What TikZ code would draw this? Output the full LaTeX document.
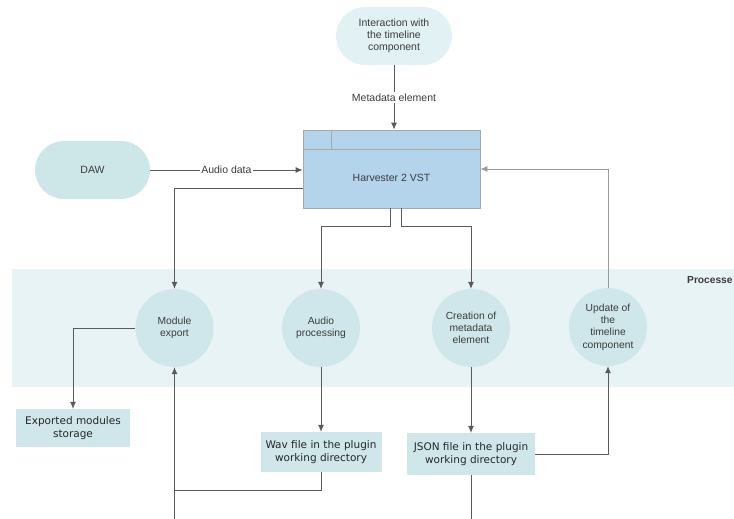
\documentclass[tikz,border=0pt]{standalone}
\usepackage{fontspec}
\setmainfont{Liberation Sans}
\newfontfamily\boxfont{DejaVu Sans}
\usepackage{tikz}
\usetikzlibrary{arrows.meta}

\definecolor{pillfill}{HTML}{CDE6E8}
\definecolor{toppill}{HTML}{E2F1F3}
\definecolor{bandfill}{HTML}{E7F3F5}
\definecolor{procfill}{HTML}{CFE7EA}
\definecolor{vstfill}{HTML}{B4D4EC}
\definecolor{vstline}{HTML}{A8A8A8}
\definecolor{linegrey}{HTML}{5A5A5A}
\definecolor{lightline}{HTML}{9A9A9A}
\definecolor{textgrey}{HTML}{3C3C3C}

\begin{document}
\begin{tikzpicture}[x=1pt,y=-1pt]
    \tikzstyle{pill} = [rounded corners=29pt, minimum width=116pt, minimum height=58pt, align=center, text=textgrey, font=\fontsize{10.5}{12}\selectfont]
    \tikzstyle{proc} = [circle, fill=procfill, minimum size=78pt, inner sep=0pt, align=center, text=textgrey, font=\fontsize{10.3}{12.3}\selectfont]
    \tikzstyle{store} = [fill=procfill, inner sep=0pt, align=center, text=black!85, font=\boxfont\fontsize{10.5}{13}\selectfont]
    \tikzstyle{arrow} = [draw=linegrey, line width=0.8pt, ->, >={Latex[length=7pt,width=6pt]}]
    \tikzstyle{line} = [draw=linegrey, line width=0.8pt]
    \tikzstyle{flowlabel} = [fill=white, text=textgrey, font=\fontsize{10.5}{12}\selectfont]
    \useasboundingbox (0,0) rectangle (734,519);

    % processes band
    \node (band) [fill=bandfill, minimum width=722pt, minimum height=118pt, inner sep=0pt] at (373,328) {};
    \node (bandlabel) [anchor=west, inner sep=0pt, text=textgrey, font=\bfseries\fontsize{10.2}{12}\selectfont] at (687,280) {Processe};

    % sources
    \node (interact) [pill, fill=toppill] at (394,36) {Interaction with\\the timeline\\component};
    \node (daw) [pill, fill=pillfill, minimum width=115pt] at (92.5,170) {DAW};

    % plugin
    \node (vst) [draw=vstline, fill=vstfill, line width=0.8pt, minimum width=177pt, minimum height=78pt, inner sep=0pt] at (391.5,169) {};
    \draw [vstline, line width=0.8pt] ([yshift=-20pt]vst.north west) -- ([yshift=-20pt]vst.north east);
    \draw [vstline, line width=0.8pt] ([xshift=29pt]vst.north west) -- ([xshift=29pt,yshift=-20pt]vst.north west);
    \node (vsttext) [text=textgrey, font=\fontsize{10.5}{12}\selectfont] at (391.5,178) {Harvester 2 VST};

    % processes
    \node (modexp) [proc] at (174.5,328) {Module\\export};
    \node (audio) [proc] at (321,328) {Audio\\processing};
    \node (creation) [proc] at (471,328) {Creation of\\metadata\\element};
    \node (update) [proc] at (608,327) {Update of\\the\\timeline\\component};

    % stores
    \node (storage) [store, minimum width=114pt, minimum height=38pt] at (73,428) {Exported modules\\storage};
    \node (wav) [store, minimum width=121pt, minimum height=40pt] at (321,452) {Wav file in the plugin\\working directory};
    \node (json) [store, minimum width=128pt, minimum height=42pt] at (471,454) {JSON file in the plugin\\working directory};

    \coordinate (wavjoin) at (174.5,490);
    \coordinate (bottomleft) at (174.5,519);
    \coordinate (bottomjson) at (471,519);

    \draw [arrow] (interact.south) -- node[flowlabel, inner sep=1.5pt] {Metadata element} (interact.south |- vst.north);
    \draw [arrow] (daw.east) -- node[flowlabel, inner sep=1pt] {Audio data} (vst.west |- daw.east);
    \draw [arrow] ([yshift=-19pt]vst.west) -| (modexp.north);
    \draw [arrow] ([xshift=-1pt]vst.south) -- ++(0,18) -| (audio.north);
    \draw [arrow] ([xshift=9.5pt]vst.south) -- ++(0,18) -| (creation.north);
    \draw [arrow, draw=lightline] (update.north) |- (vst.east);

    \draw [arrow] (modexp.west) -| (storage.north);
    \draw [arrow] (audio.south) -- (wav.north);
    \draw [arrow] (creation.south) -- (json.north);
    \draw [line] (wav.south) |- (wavjoin);
    \draw [arrow] (bottomleft) -- (modexp.south);
    \draw [arrow] (json.east) -| (update.south);
    \draw [line] (json.south) -- (bottomjson);
\end{tikzpicture}
\end{document}
